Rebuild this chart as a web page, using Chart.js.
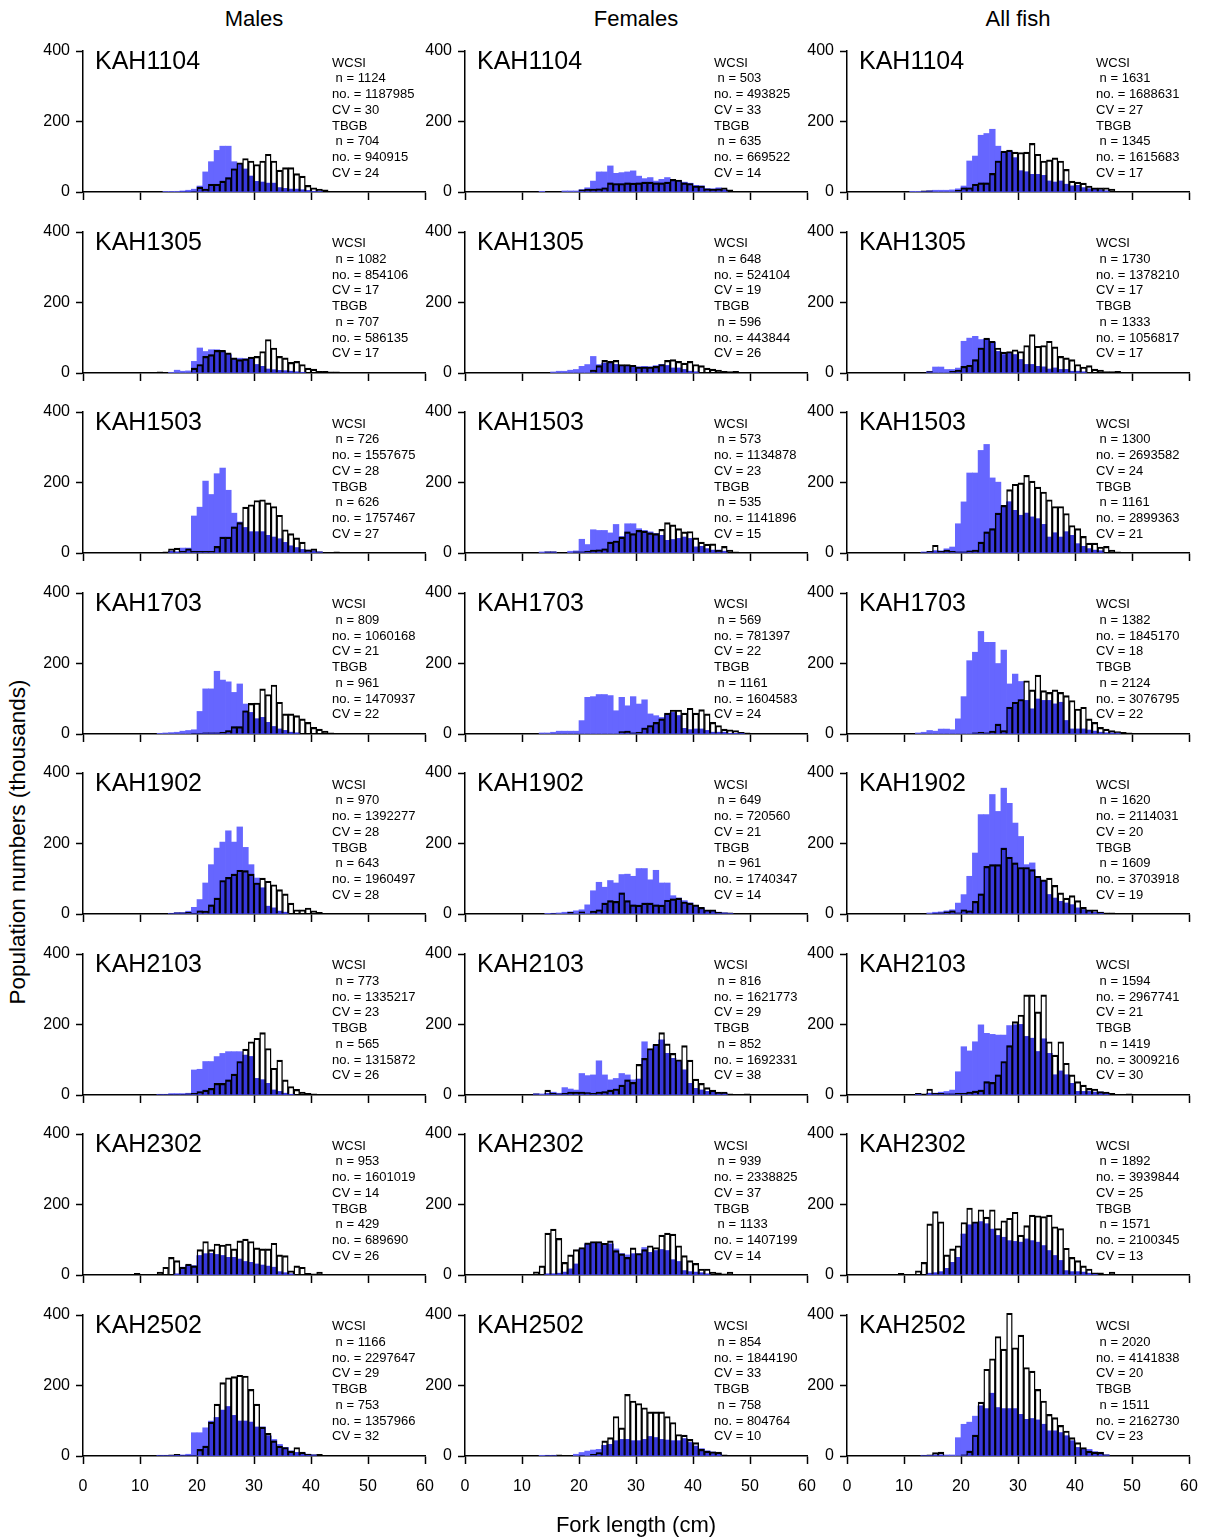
<!DOCTYPE html>
<html>
<head>
<meta charset="utf-8">
<script src="https://cdn.jsdelivr.net/npm/chart.js@4"></script>
<style>
body { margin: 0; background: #fff; font-family: 'Liberation Sans', Arial, sans-serif; }
#page { position: relative; width: 1207px; height: 1539px; overflow: hidden; }
canvas { position: absolute; }
.t { position: absolute; white-space: pre; color: #000; }
</style>
</head>
<body>
<div id="page"></div>
<script>
// trips (rows) and groups (columns)
const trips = ['KAH1104', 'KAH1305', 'KAH1503', 'KAH1703', 'KAH1902', 'KAH2103', 'KAH2302', 'KAH2502'];
const groups = ['Males', 'Females', 'All fish'];

// numbers in thousands per 1 cm bin, first value = bin 9-10 cm
const firstBin = 9;

const malesWCSI = [
  [0,0,0,0,0,1,1,2,3,5,8,17,57,86,118,130,130,86,80,65,45,30,28,25,25,12,10,8,8,6,4,2,1],
  [0,0,0,0,0,0,2,8,5,6,33,71,61,66,66,61,52,40,42,40,40,24,19,11,9,7,6,5,3,2],
  [0,0,0,0,0,0,5,3,14,14,105,130,204,166,225,241,178,113,88,72,60,60,60,50,45,40,30,20,15,10,8,6,3],
  [0,0,0,0,2,3,4,5,8,10,12,64,128,128,178,153,148,118,142,85,61,43,47,33,21,14,10,5,3],
  [0,0,0,0,0,0,2,4,4,8,19,41,88,140,187,204,236,204,247,189,140,102,74,22,17,8,5],
  [0,0,0,0,2,2,4,4,4,5,71,73,95,95,109,118,123,123,123,113,109,47,43,33,14,10,5,2],
  [0,0,0,0,0,0,0,3,22,28,26,55,60,61,58,55,50,50,45,38,36,31,28,25,22,9,6,3],
  [0,0,0,0,2,2,2,3,3,5,66,66,80,99,109,130,140,115,99,99,96,82,82,57,47,33,24,14,10,8,5,3]
];
const malesTBGB = [
  [0,0,0,0,2,0,0,0,1,1,2,14,8,22,22,31,41,66,83,95,88,78,88,107,88,62,69,69,52,45,19,12,8,6,2,1],
  [0,0,0,0,3,0,0,0,0,0,14,24,47,52,64,64,57,43,38,40,45,47,61,95,71,47,43,30,33,24,14,11,5,5,3,3],
  [0,0,0,0,0,3,12,14,5,12,5,5,5,5,19,45,45,74,86,130,137,149,151,142,132,107,66,55,43,31,9,12,3,2,0,3],
  [0,0,0,0,0,0,0,0,0,0,2,2,3,3,3,5,10,21,21,66,87,88,128,112,139,90,57,57,52,43,33,19,14,8,3],
  [0,0,0,0,0,0,2,3,3,5,2,9,8,26,45,95,104,113,124,123,113,88,102,93,83,69,57,31,12,12,17,9,5,2],
  [0,0,0,0,2,2,2,2,2,3,5,10,14,19,33,33,43,59,95,130,151,161,177,132,76,99,43,24,16,8,5,3],
  [5,0,0,0,8,22,50,41,22,31,26,72,95,72,88,85,88,74,97,102,95,77,74,74,90,57,55,12,26,22,5,3,8],
  [0,0,0,0,2,2,3,5,2,2,2,19,28,96,147,208,222,225,229,227,189,147,82,64,43,28,24,14,24,11,5,3,5]
];

const femalesWCSI = [
  [0,0,0,0,2,0,0,0,3,3,3,6,12,31,57,57,74,53,55,57,60,45,38,41,31,36,41,31,31,28,25,19,17,9,9,12,6],
  [0,0,0,0,0,0,3,5,5,8,10,19,24,47,24,28,28,24,21,19,17,17,19,17,21,24,21,14,14,10,5,3],
  [0,0,0,0,3,3,3,0,0,5,6,39,24,66,64,64,57,81,47,83,83,69,64,60,55,50,36,38,41,45,41,17,19,12,8,8,5],
  [0,0,0,0,3,3,5,8,8,8,8,38,104,106,112,112,109,66,104,80,106,85,97,57,52,47,57,61,52,16,12,14,14,10,5,5,5,2,2,2],
  [0,0,0,0,0,2,2,3,5,6,9,12,26,66,90,76,95,88,112,113,107,129,129,97,124,88,88,52,45,38,31,22,17,9,8,5,3,2],
  [0,0,0,3,3,5,8,5,21,17,14,61,55,57,97,57,43,47,61,57,43,45,151,128,142,156,118,104,95,71,33,19,14,10,8,5,5],
  [0,0,0,0,0,3,3,5,8,17,31,74,88,91,91,88,88,74,60,57,60,60,78,64,69,72,69,43,38,12,9,8,6,3],
  [0,0,0,0,2,2,2,0,0,0,5,10,14,17,19,30,33,43,47,47,43,43,47,55,52,47,45,43,43,49,38,28,21,14,11,8]
];
const femalesTBGB = [
  [0,0,0,0,0,0,0,0,0,0,0,6,8,8,9,12,26,24,24,26,25,26,28,28,26,26,28,36,34,26,24,17,17,9,8,9,12,6],
  [0,0,0,0,0,0,0,0,0,0,0,0,0,8,21,36,33,36,24,24,22,17,17,17,19,24,36,38,33,28,33,24,21,14,11,8,5,4,5],
  [0,0,0,0,0,3,3,0,0,0,3,3,5,8,9,12,31,34,45,60,55,64,62,57,55,67,86,80,69,60,61,43,31,25,26,8,19,8,3],
  [0,0,0,0,0,0,0,0,0,0,0,0,0,0,0,0,0,0,7,8,3,5,17,24,33,43,59,68,68,59,73,59,69,57,33,24,14,12,10,5,3,2,2,2],
  [0,0,0,0,0,0,2,0,0,5,0,6,0,8,12,31,38,36,60,38,26,25,31,31,26,25,39,43,45,34,31,26,19,12,12,5,3,3,2,2],
  [0,0,0,3,0,14,5,3,5,8,8,8,7,5,8,10,14,17,28,43,36,87,104,132,144,177,145,118,100,140,99,45,33,21,14,8,8,3,0,0,3],
  [2,0,0,9,26,119,130,104,36,57,72,78,91,95,95,90,97,69,60,50,77,61,72,83,78,113,119,116,83,55,41,33,17,17,8,6,3,8,2],
  [0,0,0,0,0,2,2,3,0,0,0,2,0,5,10,43,52,112,80,175,156,149,137,125,125,125,112,95,61,59,47,38,19,14,12,11,3,2,0,2]
];

const allWCSI = [
  [0,0,2,2,2,3,5,5,5,6,9,17,88,102,161,166,178,130,113,116,97,60,57,50,50,47,31,28,31,22,17,19,12,9,8,6,3],
  [0,0,0,0,0,5,17,17,10,10,14,90,99,104,95,96,87,61,52,57,52,38,24,24,19,17,11,14,10,10,5,5,3],
  [0,0,0,0,3,3,6,6,12,17,83,145,227,227,291,308,213,201,132,145,121,107,113,102,97,81,45,57,45,60,50,26,19,12,8,6],
  [0,0,0,3,5,10,8,14,14,12,43,106,208,232,291,260,260,200,238,142,170,149,95,71,99,95,95,85,90,38,14,14,14,11,8,5,3,3,3],
  [0,0,0,0,0,3,5,6,9,12,31,55,107,173,282,282,339,291,357,314,258,220,140,145,102,93,55,45,36,31,26,17,12,8,5,5],
  [0,0,0,3,0,5,5,8,10,14,66,137,125,151,199,175,172,170,170,197,199,200,166,161,123,159,118,57,68,57,33,10,10,10,8,8,5],
  [0,0,0,0,0,5,6,9,19,36,50,116,142,148,151,145,130,112,107,97,95,93,102,97,93,83,69,55,41,12,9,9,8,5,3],
  [0,0,0,0,2,2,3,3,3,3,52,90,96,113,142,134,178,137,134,134,134,118,104,106,102,90,71,71,66,57,43,24,19,19,12,10,3]
];
const allTBGB = [
  [0,0,0,0,3,3,0,0,0,0,5,12,12,22,26,26,53,88,116,119,113,112,113,138,107,88,91,97,88,64,31,28,25,17,12,12,12,8],
  [0,0,0,0,0,4,0,0,0,5,8,19,22,38,71,99,90,71,59,61,66,61,78,109,76,78,90,74,47,43,38,24,17,21,11,8,4,4,5],
  [0,0,0,0,2,5,22,5,8,5,3,3,6,8,31,60,69,113,135,180,195,199,220,204,187,173,151,132,132,112,78,69,47,28,28,17,19,8,3],
  [0,0,0,0,0,0,0,0,0,0,0,0,0,3,5,3,8,28,10,76,90,98,151,125,167,123,118,125,118,109,95,71,76,43,33,19,14,10,7,5,3],
  [0,0,0,0,0,0,2,3,6,9,3,12,9,36,57,135,140,140,187,161,145,132,132,126,107,97,102,81,60,45,52,38,19,12,12,5,3,3,2,2],
  [0,0,0,5,3,17,5,5,3,3,5,5,8,11,14,38,36,57,95,140,208,227,284,284,236,284,151,113,151,90,57,38,28,19,17,10,8,5,0,0,3],
  [5,0,0,12,36,145,180,151,57,74,83,149,190,151,185,164,185,132,154,161,178,113,140,170,168,166,170,137,132,76,50,41,26,17,6,6,2,8,0,2],
  [0,0,0,0,2,3,10,11,0,0,0,3,14,59,153,246,276,339,303,405,307,343,251,241,189,156,118,109,87,71,52,38,24,14,11,11,3,2,0,2]
];

// WCSI n, no., CV, TBGB n, no., CV
const malesStats = [
  [1124,1187985,30,704,940915,24], [1082,854106,17,707,586135,17],
  [726,1557675,28,626,1757467,27], [809,1060168,21,961,1470937,22],
  [970,1392277,28,643,1960497,28], [773,1335217,23,565,1315872,26],
  [953,1601019,14,429,689690,26], [1166,2297647,29,753,1357966,32]
];
const femalesStats = [
  [503,493825,33,635,669522,14], [648,524104,19,596,443844,26],
  [573,1134878,23,535,1141896,15], [569,781397,22,1161,1604583,24],
  [649,720560,21,961,1740347,14], [816,1621773,29,852,1692331,38],
  [939,2338825,37,1133,1407199,14], [854,1844190,33,758,804764,10]
];
const allStats = [
  [1631,1688631,27,1345,1615683,17], [1730,1378210,17,1333,1056817,17],
  [1300,2693582,24,1161,2899363,21], [1382,1845170,18,2124,3076795,22],
  [1620,2114031,20,1609,3703918,19], [1594,2967741,21,1419,3009216,30],
  [1892,3939844,25,1571,2100345,13], [2020,4141838,20,1511,2162730,23]
];

const wcsiCols = [malesWCSI, femalesWCSI, allWCSI];
const tbgbCols = [malesTBGB, femalesTBGB, allTBGB];
const statCols = [malesStats, femalesStats, allStats];

const lightBlue = '#6666ff';
const darkBlue = '#3838dc';

Chart.defaults.font.family = "'Liberation Sans', Arial, sans-serif";
Chart.defaults.color = '#000';

const page = document.getElementById('page');
const colX0 = [83, 465, 847];   // pixel of 0 cm
const plotW = 342, plotH = 141;
const rowTop0 = 51, rowStep = 180.5;
const yAxisW = 50, padTop = 12, padRight = 12, xAxisH = 40;

function addText(txt, left, top, size, extra) {
  const d = document.createElement('div');
  d.className = 't';
  d.textContent = txt;
  d.style.left = left + 'px';
  d.style.top = top + 'px';
  d.style.fontSize = size + 'px';
  if (extra) Object.assign(d.style, extra);
  page.appendChild(d);
  return d;
}

// empty bins are left out so nothing is drawn on the axis
function toPoints(vals) {
  return vals.map((v, i) => ({x: firstBin + i + 0.5, y: v > 0 ? v : null}));
}

// part of the WCSI bars that lies inside the TBGB outlines
function overlap(a, b) {
  const n = Math.max(a.length, b.length);
  const out = [];
  for (let i = 0; i < n; i++) out.push(Math.min(a[i] || 0, b[i] || 0));
  return out;
}

const axisGrid = {drawOnChartArea: false, drawTicks: true, tickWidth: 1.5, tickColor: '#000'};

for (let c = 0; c < 3; c++) {
  addText(groups[c], colX0[c], 7, 22, {width: plotW + 'px', textAlign: 'center', lineHeight: '24px'});
  for (let r = 0; r < trips.length; r++) {
    const yTop = rowTop0 + rowStep * r;
    const w = wcsiCols[c][r];
    const t = tbgbCols[c][r];
    const last = r === trips.length - 1;

    const cv = document.createElement('canvas');
    cv.width = yAxisW + plotW + padRight;
    cv.height = padTop + plotH + xAxisH;
    cv.style.left = (colX0[c] - yAxisW) + 'px';
    cv.style.top = (yTop - padTop) + 'px';
    page.appendChild(cv);

    new Chart(cv.getContext('2d'), {
      type: 'bar',
      data: {
        datasets: [
          {label: 'TBGB', data: toPoints(t), backgroundColor: 'rgba(0,0,0,0)', borderColor: '#000',
           borderWidth: {top: 1.5, left: 0.75, right: 0.75, bottom: 0}, order: 0},
          {label: 'both', data: toPoints(overlap(w, t)), backgroundColor: darkBlue, order: 1},
          {label: 'WCSI', data: toPoints(w), backgroundColor: lightBlue, order: 2}
        ]
      },
      options: {
        responsive: false,
        animation: false,
        events: [],
        layout: {padding: {top: padTop, right: padRight, left: 0, bottom: 0}},
        plugins: {legend: {display: false}, tooltip: {enabled: false}},
        datasets: {bar: {grouped: false, barPercentage: 1, categoryPercentage: 1, clip: false}},
        scales: {
          x: {
            type: 'linear', min: 0, max: 60, offset: false,
            grid: Object.assign({offset: false, tickLength: 8}, axisGrid),
            border: {color: '#000', width: 1.5},
            ticks: {stepSize: 10, display: last, font: {size: 16}, color: '#000', padding: 13, maxRotation: 0},
            afterFit: s => { s.height = xAxisH; s.paddingLeft = 0; s.paddingRight = 0; }
          },
          y: {
            min: 0, max: 400,
            grid: Object.assign({tickLength: 7}, axisGrid),
            border: {color: '#000', width: 1.5},
            ticks: {stepSize: 200, font: {size: 16}, color: '#000', padding: 6},
            afterFit: s => { s.width = yAxisW; s.paddingTop = 0; s.paddingBottom = 0; }
          }
        }
      }
    });

    addText(trips[r], colX0[c] + 12, yTop - 3, 25, {lineHeight: '24px'});
    const s = statCols[c][r];
    const lines = ['WCSI', ' n = ' + s[0], 'no. = ' + s[1], 'CV = ' + s[2],
                   'TBGB', ' n = ' + s[3], 'no. = ' + s[4], 'CV = ' + s[5]];
    addText(lines.join('\n'), colX0[c] + 249, yTop + 3.5, 13, {lineHeight: '15.75px'});
  }
}

addText('Population numbers (thousands)', 18 - 200, 842 - 12, 22.5,
  {width: '400px', textAlign: 'center', lineHeight: '24px', transform: 'rotate(-90deg)'});
addText('Fork length (cm)', colX0[1], 1513, 22, {width: plotW + 'px', textAlign: 'center', lineHeight: '24px'});
</script>
</body>
</html>
